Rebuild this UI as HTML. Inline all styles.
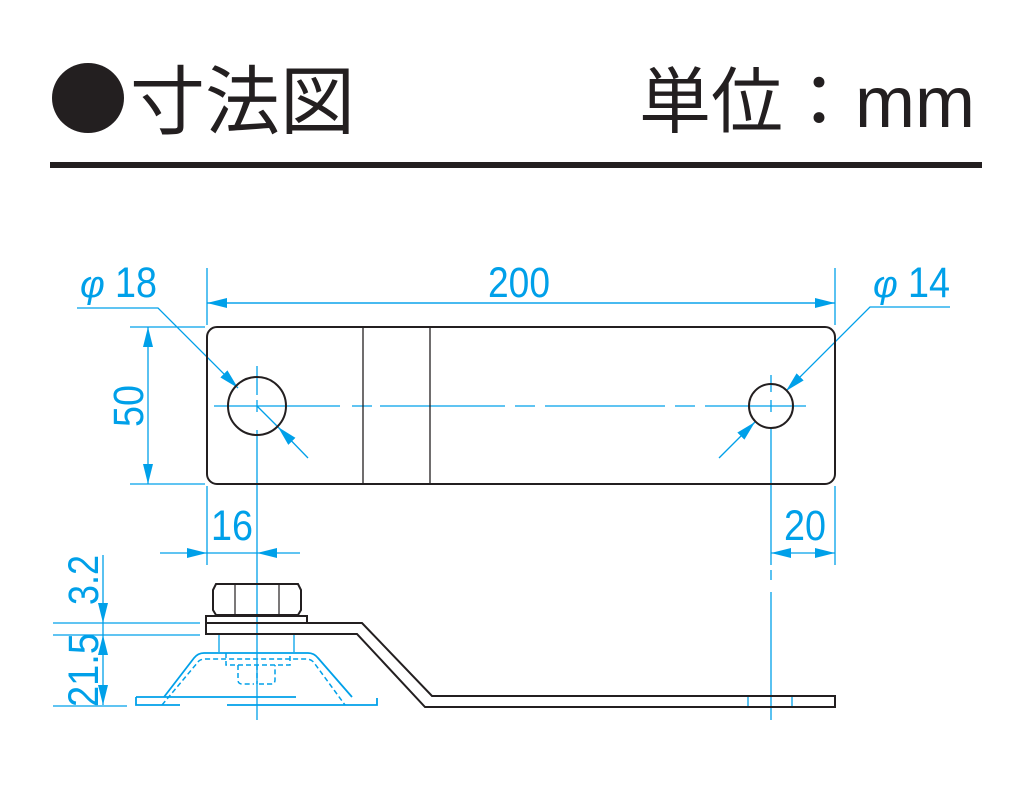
<!DOCTYPE html>
<html><head><meta charset="utf-8"><style>
html,body{margin:0;padding:0;background:#fff}
svg{display:block}
.t{font-family:"Liberation Sans","Noto Sans CJK JP",sans-serif}
</style></head><body>
<svg width="1020" height="800" viewBox="0 0 1020 800" xmlns="http://www.w3.org/2000/svg">
<defs>
<marker id="a" viewBox="0 0 20 10" refX="20" refY="5" markerWidth="20" markerHeight="10" markerUnits="userSpaceOnUse" orient="auto"><path d="M0,0L20,5L0,10z" fill="#00a0e9"/></marker>
</defs>
<!-- title -->
<ellipse cx="88" cy="98" rx="36" ry="35" fill="#231f20"/>
<text x="130" y="128" class="t" font-size="75" fill="#231f20" textLength="225" lengthAdjust="spacingAndGlyphs">寸法図</text>
<text x="975" y="127" class="t" font-size="72" fill="#231f20" text-anchor="end">単位：mm</text>
<rect x="50" y="162" width="932" height="6" fill="#231f20"/>

<g stroke="#00a0e9" stroke-width="1.3" fill="none">
<line x1="207" y1="268" x2="207" y2="325"/>
<line x1="835" y1="268" x2="835" y2="325"/>
<line x1="130" y1="327" x2="205" y2="327"/>
<line x1="130" y1="484" x2="205" y2="484"/>
<line x1="207" y1="486" x2="207" y2="565"/>
<line x1="835" y1="486" x2="835" y2="565"/>
<line x1="207" y1="303" x2="835" y2="303" marker-end="url(#a)"/>
<line x1="835" y1="303" x2="207" y2="303" marker-end="url(#a)"/>
<line x1="148" y1="405" x2="148" y2="327" marker-end="url(#a)"/>
<line x1="148" y1="405" x2="148" y2="484" marker-end="url(#a)"/>
<line x1="214" y1="406" x2="340" y2="406"/>
<line x1="352" y1="406" x2="372" y2="406"/>
<line x1="380" y1="406" x2="505" y2="406"/>
<line x1="515" y1="406" x2="535" y2="406"/>
<line x1="545" y1="406" x2="665" y2="406"/>
<line x1="675" y1="406" x2="695" y2="406"/>
<line x1="705" y1="406" x2="806" y2="406"/>
<line x1="257" y1="366" x2="257" y2="395"/>
<line x1="257" y1="400" x2="257" y2="412"/>
<line x1="257" y1="430" x2="257" y2="720"/>
<line x1="771" y1="375" x2="771" y2="392"/>
<line x1="771" y1="400" x2="771" y2="412"/>
<line x1="771" y1="428" x2="771" y2="565"/>
<line x1="771" y1="570" x2="771" y2="580"/>
<line x1="771" y1="592" x2="771" y2="720"/>
<polyline points="77,308 158,308 238,388" marker-end="url(#a)"/>
<line x1="308" y1="458" x2="278" y2="427" marker-end="url(#a)"/>
<line x1="278" y1="427" x2="257" y2="406"/>
<polyline points="950,307 870,307 786,391" marker-end="url(#a)"/>
<line x1="719" y1="458" x2="755" y2="422" marker-end="url(#a)"/>
<line x1="160" y1="553" x2="207" y2="553" marker-end="url(#a)"/>
<line x1="300" y1="553" x2="257" y2="553" marker-end="url(#a)"/>
<line x1="207" y1="553" x2="257" y2="553"/>
<line x1="803" y1="553" x2="771" y2="553" marker-end="url(#a)"/>
<line x1="803" y1="553" x2="835" y2="553" marker-end="url(#a)"/>
<line x1="103" y1="555" x2="103" y2="623" marker-end="url(#a)"/>
<line x1="103" y1="670" x2="103" y2="635" marker-end="url(#a)"/>
<line x1="103" y1="670" x2="103" y2="705" marker-end="url(#a)"/>
<line x1="103" y1="623" x2="103" y2="635"/>
<line x1="53" y1="623" x2="200" y2="623"/>
<line x1="53" y1="635" x2="200" y2="635"/>
<line x1="53" y1="706" x2="127" y2="706"/>
<line x1="219" y1="634" x2="219" y2="652"/>
<line x1="294" y1="634" x2="294" y2="652"/>
<path d="M164,697 L194,658 Q198,653 204,653 L308,653 Q314,653 318,658 L352,697" stroke-width="1.8"/>
<path d="M136,697 L296,697 M136,697 L136,705 L180,705 M227,705 L377,705 L377,698" stroke-width="1.8"/>
<path d="M162,705 L198,662 Q200,659 206,659 L306,659 Q312,659 315,664 L345,705 M226,653 L226,665 L290,665 L290,653 M238,665 L238,680 Q238,684 242,684 L254,684 M259,684 L271,684 Q275,684 275,680 L275,665 M257,665 L257,684" stroke-dasharray="5,3" stroke-width="1.5"/>
<line x1="748" y1="697" x2="748" y2="707"/>
<line x1="792" y1="697" x2="792" y2="707"/>
</g>

<g stroke="#231f20" fill="none">
<rect x="207" y="327" width="628" height="157" rx="10" stroke-width="2"/>
<line x1="363" y1="327" x2="363" y2="484" stroke-width="1.3"/>
<line x1="430" y1="327" x2="430" y2="484" stroke-width="1.3"/>
<circle cx="257" cy="406" r="29" stroke-width="2"/>
<circle cx="771" cy="406" r="22" stroke-width="2"/>
<path d="M216,584 L298,584 L301,590 L301,610 L298,615 L216,615 L213,610 L213,590 Z" stroke-width="2"/>
<line x1="235" y1="584" x2="235" y2="615" stroke-width="1.2"/>
<line x1="279" y1="584" x2="279" y2="615" stroke-width="1.2"/>
<rect x="206" y="616" width="101" height="7" stroke-width="2"/>
<path d="M206,623 L362,623 L432,696 L835,696 L835,707 L425,707 L357,634 L206,634 Z" stroke-width="2"/>
</g>

<g class="t" fill="#00a0e9" font-size="43">
<text x="519" y="297" text-anchor="middle" textLength="62" lengthAdjust="spacingAndGlyphs">200</text>
<text x="80" y="297" font-style="italic" font-size="38">φ</text><text x="115" y="297" textLength="42" lengthAdjust="spacingAndGlyphs">18</text>
<text x="873" y="297" font-style="italic" font-size="38">φ</text><text x="908" y="297" textLength="42" lengthAdjust="spacingAndGlyphs">14</text>
<text x="232" y="540" text-anchor="middle" textLength="42" lengthAdjust="spacingAndGlyphs">16</text>
<text x="805" y="540" text-anchor="middle" textLength="42" lengthAdjust="spacingAndGlyphs">20</text>
<text transform="translate(143,406) rotate(-90)" text-anchor="middle" textLength="42" lengthAdjust="spacingAndGlyphs">50</text>
<text transform="translate(98,580) rotate(-90)" text-anchor="middle" textLength="50" lengthAdjust="spacingAndGlyphs">3.2</text>
<text transform="translate(98,670) rotate(-90)" text-anchor="middle" textLength="74" lengthAdjust="spacingAndGlyphs">21.5</text>
</g>
</svg>
</body></html>
